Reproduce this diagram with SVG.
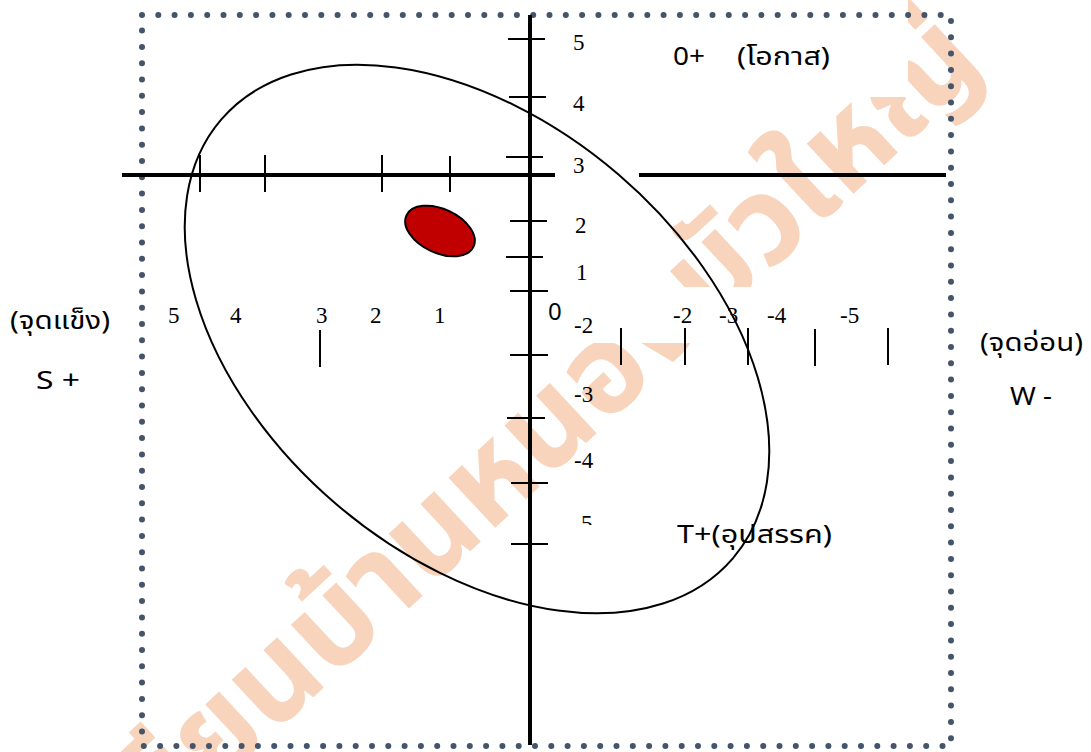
<svg xmlns="http://www.w3.org/2000/svg" width="1091" height="752" viewBox="0 0 1091 752">
<defs>
<style>
.wm{font-family:"Noto Sans Thai","Noto Sans","DejaVu Sans",sans-serif;font-weight:bold;font-size:125px;fill:#f8d4bd}
.num{font-family:"Liberation Serif",serif;font-size:23px;fill:#000}
.lbl{font-family:"Noto Sans Thai","Noto Sans",sans-serif;font-size:25px;fill:#000}
.axis{stroke:#000;stroke-width:4;fill:none}
.tick{stroke:#000;stroke-width:2;fill:none}
.mask{fill:#fff}
</style>
<clipPath id="clip5"><rect x="560" y="500" width="60" height="25"/></clipPath>
</defs>
<rect width="1091" height="752" fill="#fff"/>
<g id="watermark"><text class="wm" transform="translate(6,984) rotate(-43)">โรงเรียนบ้านหนองบัวใหญ่</text></g>
<g id="masks"><rect class="mask" x="640" y="0" width="268" height="97"/><rect class="mask" x="556" y="287" width="345" height="56"/></g>
<rect id="frame" x="142" y="15" width="809" height="731" fill="none" stroke="#44546a" stroke-width="6" stroke-linecap="round" stroke-dasharray="0 16.3"/>
<g id="connectors">
<line class="axis" x1="530" y1="15" x2="530" y2="745"/>
<line class="axis" x1="122" y1="175" x2="555" y2="175"/>
<line class="axis" x1="639" y1="175" x2="946" y2="175"/>
<line class="tick" x1="200" y1="155" x2="200" y2="192" stroke-width="3"/>
<line class="tick" x1="265" y1="155" x2="265" y2="192"/>
<line class="tick" x1="382" y1="155" x2="382" y2="192"/>
<line class="tick" x1="450" y1="156" x2="450" y2="192"/>
<line class="tick" x1="508" y1="39" x2="545" y2="39"/>
<line class="tick" x1="509" y1="97" x2="546" y2="97"/>
<line class="tick" x1="506" y1="157" x2="543" y2="157"/>
<line class="tick" x1="510" y1="221" x2="547" y2="221"/>
<line class="tick" x1="506" y1="257" x2="543" y2="257"/>
<line class="tick" x1="510" y1="291" x2="548" y2="291"/>
<line class="tick" x1="510" y1="355" x2="548" y2="355"/>
<line class="tick" x1="507" y1="418" x2="545" y2="418"/>
<line class="tick" x1="511" y1="483" x2="548" y2="483"/>
<line class="tick" x1="511" y1="544" x2="548" y2="544"/>
<line class="tick" x1="320" y1="330" x2="320" y2="367"/>
<line class="tick" x1="621" y1="328" x2="621" y2="365"/>
<line class="tick" x1="685" y1="328" x2="685" y2="365"/>
<line class="tick" x1="748" y1="328" x2="748" y2="365"/>
<line class="tick" x1="815" y1="329" x2="815" y2="366"/>
<line class="tick" x1="888" y1="328" x2="888" y2="365"/>
<ellipse cx="477" cy="339" rx="337" ry="217" transform="rotate(40.6 477 339)" fill="none" stroke="#000" stroke-width="2"/>
</g>
<g id="position"><ellipse cx="440" cy="231" rx="37" ry="22" transform="rotate(25 440 231)" fill="#c00000" stroke="#000" stroke-width="2"/></g>
<g id="axis-labels">
<text class="num" x="573" y="50">5</text>
<text class="num" x="573" y="111">4</text>
<text class="num" x="573" y="173">3</text>
<text class="num" x="575" y="233">2</text>
<text class="num" x="576" y="280">1</text>
<text class="num" x="574" y="333">-2</text>
<text class="num" x="574" y="402">-3</text>
<text class="num" x="574" y="468">-4</text>
<text class="num" x="581" y="531" clip-path="url(#clip5)">5</text>
<text class="num" x="168" y="323">5</text>
<text class="num" x="230" y="323">4</text>
<text class="num" x="316" y="323">3</text>
<text class="num" x="370" y="323">2</text>
<text class="num" x="434" y="323">1</text>
<text class="lbl" x="548" y="320" style="font-size:24px">0</text>
<text class="num" x="673" y="323">-2</text>
<text class="num" x="719" y="323">-3</text>
<text class="num" x="767" y="323">-4</text>
<text class="num" x="840" y="323">-5</text>
</g>
<g id="strength"><text class="lbl" x="10" y="329" textLength="100" lengthAdjust="spacingAndGlyphs">(จุดแข็ง)</text><text class="lbl" x="36" y="389" textLength="44" lengthAdjust="spacingAndGlyphs">S +</text></g>
<g id="weakness"><text class="lbl" x="980" y="351" textLength="103" lengthAdjust="spacingAndGlyphs">(จุดอ่อน)</text><text class="lbl" x="1010" y="405" textLength="42" lengthAdjust="spacingAndGlyphs">W -</text></g>
<g id="opportunity"><text class="lbl" x="673" y="65" textLength="32" lengthAdjust="spacingAndGlyphs">0+</text><text class="lbl" x="737" y="65" textLength="93" lengthAdjust="spacingAndGlyphs">(โอกาส)</text></g>
<g id="threat"><text class="lbl" x="677" y="543" textLength="155" lengthAdjust="spacingAndGlyphs">T+(อุปสรรค)</text></g>
</svg>
